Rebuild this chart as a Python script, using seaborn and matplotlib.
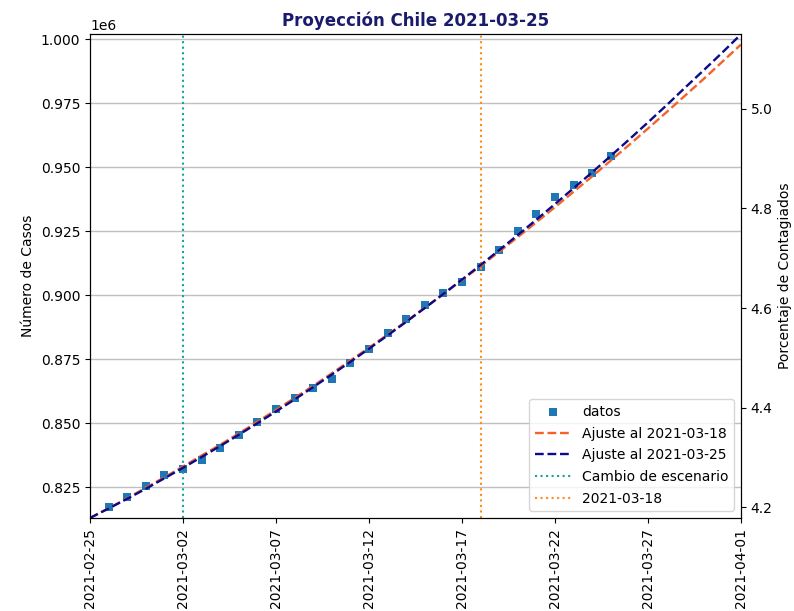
import matplotlib
matplotlib.use("Agg")
import matplotlib.pyplot as plt
import matplotlib.dates as mdates
import numpy as np
import pandas as pd
import seaborn as sns

# Cumulative confirmed cases (daily reports)
data_dates = pd.date_range("2021-02-26", "2021-03-25", freq="D")
data_cases = [
    817300, 821400, 825600, 830000, 832400, 835800, 840300, 845600,
    850400, 855600, 860100, 863800, 867500, 873700, 879200, 885500,
    891000, 896300, 901000, 905100, 911300, 917900, 925000, 932000,
    938300, 943200, 947700, 954600,
]

# Fitted projections, one value per day
fit_dates = pd.date_range("2021-02-25", "2021-04-01", freq="D")
fit_0318 = [
    813100, 816900, 820800, 824900, 829000, 833200, 837500, 841700,
    846100, 850700, 855300, 860000, 864700, 869600, 874600, 879600,
    884700, 889900, 895200, 900500, 906000, 911500, 917100, 922800,
    928600, 934500, 940500, 946500, 952700, 958900, 965200, 971600,
    978100, 984600, 991300, 998000,
]
fit_0325 = [
    813100, 816800, 820600, 824500, 828600, 832700, 836900, 841200,
    845600, 850100, 854700, 859400, 864200, 869100, 874100, 879200,
    884400, 889700, 895100, 900600, 906200, 911900, 917700, 923600,
    929600, 935700, 941900, 948100, 954500, 961000, 967600, 974300,
    981200, 988000, 994900, 1002000,
]

scenario_change = pd.Timestamp("2021-03-02")
cutoff_date = pd.Timestamp("2021-03-18")
population = 19458310

tick_dates = pd.date_range("2021-02-25", "2021-04-01", freq="5D")

df_data = pd.DataFrame({"fecha": data_dates, "casos": data_cases})
df_fit = pd.DataFrame({"fecha": fit_dates, "a18": fit_0318, "a25": fit_0325})

fig = plt.figure(figsize=(7.94, 6.11), dpi=100)
ax = fig.add_axes([0.1134, 0.1522, 0.8198, 0.7922])

sns.scatterplot(data=df_data, x="fecha", y="casos", marker="s", s=34,
                color="#1f77b4", linewidth=0, label="datos", ax=ax, zorder=2)
sns.lineplot(data=df_fit, x="fecha", y="a18", color="#f4622a", linestyle="--",
             linewidth=1.7, label="Ajuste al 2021-03-18", ax=ax, zorder=3)
sns.lineplot(data=df_fit, x="fecha", y="a25", color="#0a0a8a", linestyle="--",
             linewidth=1.7, label="Ajuste al 2021-03-25", ax=ax, zorder=4)
ax.axvline(scenario_change, color="#17a2a0", linestyle=":", linewidth=1.5,
           label="Cambio de escenario")
ax.axvline(cutoff_date, color="#ff8c1a", linestyle=":", linewidth=1.5,
           label="2021-03-18")

ax.set_xlim(fit_dates[0], fit_dates[-1])
ax.set_ylim(813080, 1002130)
ax.set_xticks(tick_dates)
ax.xaxis.set_major_formatter(mdates.DateFormatter("%Y-%m-%d"))
plt.setp(ax.get_xticklabels(), rotation=90)
ax.set_xlabel("")
ax.set_ylabel("Número de Casos")
ax.grid(axis="y", color="#c0c0c0", linewidth=1)
ax.set_axisbelow(True)
ax.legend(loc="lower right", handlelength=2.6, labelspacing=0.55)
ax.set_title("Proyección Chile 2021-03-25", fontsize=12, fontweight="bold",
             color="#1b1b6b")

ax2 = ax.twinx()
lo, hi = ax.get_ylim()
ax2.set_ylim(lo / population * 100, hi / population * 100)
ax2.set_ylabel("Porcentaje de Contagiados")

fig.savefig("out.png", dpi=100)
